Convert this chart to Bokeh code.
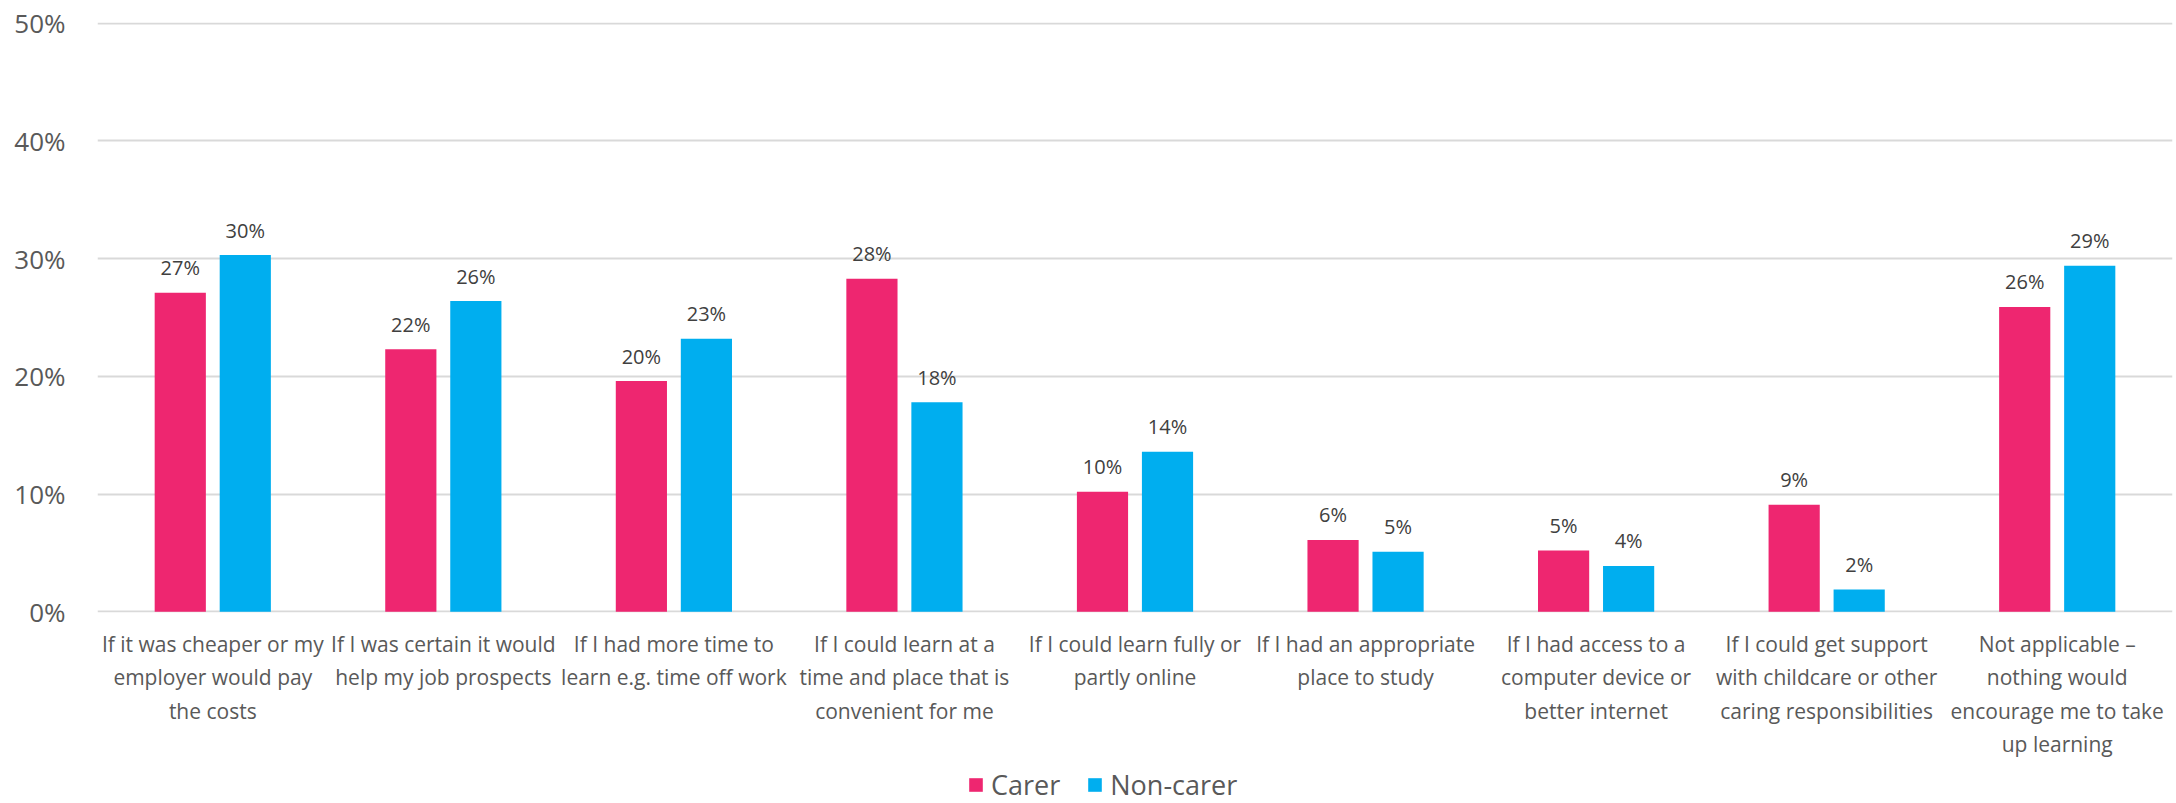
from bokeh.plotting import figure
from bokeh.layouts import column
from bokeh.models import ColumnDataSource, Range1d, FixedTicker, Legend, LegendItem
from bokeh.transform import dodge
from bokeh.core.properties import value
from bokeh.embed import file_html
from bokeh.resources import INLINE

categories = [
    "If it was cheaper or my\nemployer would pay\nthe costs",
    "If I was certain it would\nhelp my job prospects",
    "If I had more time to\nlearn e.g. time off work",
    "If I could learn at a\ntime and place that is\nconvenient for me",
    "If I could learn fully or\npartly online",
    "If I had an appropriate\nplace to study",
    "If I had access to a\ncomputer device or\nbetter internet",
    "If I could get support\nwith childcare or other\ncaring responsibilities",
    "Not applicable \u2013\nnothing would\nencourage me to take\nup learning",
]
carer = [27.1, 22.3, 19.6, 28.3, 10.2, 6.1, 5.2, 9.1, 25.9]
non_carer = [30.3, 26.4, 23.2, 17.8, 13.6, 5.1, 3.9, 1.9, 29.4]
y_ticks = [0, 10, 20, 30, 40, 50]
y_tick_labels = ["0%", "10%", "20%", "30%", "40%", "50%"]
series_names = ["Carer", "Non-carer"]

FONT = "Open Sans"
PINK = "#EE2670"
BLUE = "#00AEEF"

xs = [i + 0.5 for i in range(len(categories))]
source = ColumnDataSource(dict(
    x=xs,
    carer=carer,
    non_carer=non_carer,
    carer_lbl=[f"{round(v)}%" for v in carer],
    non_lbl=[f"{round(v)}%" for v in non_carer],
))

MAIN_H = 763
p = figure(width=2176, height=MAIN_H, output_backend="svg", toolbar_location=None,
           x_range=Range1d(0, len(categories)), y_range=Range1d(-0.06, 50.06),
           min_border_left=97, min_border_right=4, min_border_top=22,
           min_border_bottom=MAIN_H - 612)
p.outline_line_color = None
p.background_fill_color = "white"
p.border_fill_color = "white"

off = 0.141
bw = 0.222
r1 = p.vbar(x=dodge("x", -off, range=p.x_range), top="carer", width=bw, bottom=0,
            source=source, fill_color=PINK, line_color=None)
r2 = p.vbar(x=dodge("x", off, range=p.x_range), top="non_carer", width=bw, bottom=0,
            source=source, fill_color=BLUE, line_color=None)

for col, lbl, d in (("carer", "carer_lbl", -off), ("non_carer", "non_lbl", off)):
    p.text(x=dodge("x", d, range=p.x_range), y=col, text=lbl, source=source,
           text_align="center", text_baseline="alphabetic", y_offset=-25,
           text_font=value(FONT), text_font_size="20px", text_color="#404040")

# axes
p.xaxis.ticker = FixedTicker(ticks=xs)
p.xaxis.major_label_overrides = {x: c for x, c in zip(xs, categories)}
p.xaxis.major_label_text_font = FONT
p.xaxis.major_label_text_font_size = "21px"
p.xaxis.major_label_text_color = "#595959"
p.xaxis.major_label_standoff = 11
p.xaxis.axis_line_color = None
p.xaxis.major_tick_line_color = None
p.xaxis.minor_tick_line_color = None

p.yaxis.ticker = FixedTicker(ticks=y_ticks)
p.yaxis.major_label_overrides = {t: l for t, l in zip(y_ticks, y_tick_labels)}
p.yaxis.major_label_text_font = FONT
p.yaxis.major_label_text_font_size = "26px"
p.yaxis.major_label_text_color = "#595959"
p.yaxis.major_label_standoff = 26
p.yaxis.axis_line_color = None
p.yaxis.major_tick_line_color = None
p.yaxis.minor_tick_line_color = None

p.xgrid.grid_line_color = None
p.ygrid.grid_line_color = "#D9D9D9"
p.ygrid.grid_line_width = 2

# legend in its own strip below the chart (swatch renderers sit outside the visible range)
lg = figure(width=2176, height=803 - MAIN_H, output_backend="svg", toolbar_location=None,
            x_range=Range1d(0, 1), y_range=Range1d(0, 1),
            x_axis_location=None, y_axis_location=None,
            min_border_left=0, min_border_right=0, min_border_top=0, min_border_bottom=0)
lg.outline_line_color = None
lg.xgrid.grid_line_color = None
lg.ygrid.grid_line_color = None
swatch = ColumnDataSource(dict(x=[-5.0], top=[-5.0]))
l1 = lg.vbar(x="x", top="top", bottom=-6.0, width=0.1, source=swatch, fill_color=PINK, line_color=None)
l2 = lg.vbar(x="x", top="top", bottom=-6.0, width=0.1, source=swatch, fill_color=BLUE, line_color=None)
legend = Legend(items=[LegendItem(label=series_names[0], renderers=[l1]),
                       LegendItem(label=series_names[1], renderers=[l2])],
                orientation="horizontal", location=(870, 0),
                padding=0, margin=0, spacing=26, glyph_width=17, glyph_height=17,
                label_standoff=7, label_text_font=FONT, label_text_font_size="27px",
                label_text_color="#595959", border_line_color=None,
                background_fill_alpha=0)
lg.add_layout(legend, "center")

layout = column(p, lg, spacing=0)
open("out.html", "w").write(file_html(layout, INLINE))
